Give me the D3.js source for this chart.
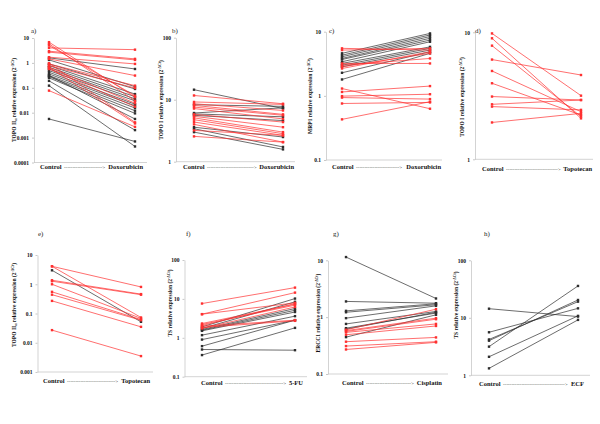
<!DOCTYPE html>
<html>
<head>
<meta charset="utf-8">
<script src="https://cdn.jsdelivr.net/npm/d3@7"></script>
<style>
body { margin: 0; background: #fff; }
text { font-family: "Liberation Serif", "DejaVu Serif", serif; }
</style>
</head>
<body>
<script>
// values: [control, after treatment]

// a) TOPO IIa, doxorubicin
var aRed = [[6.8,0.042],[5.8,0.030],[5.0,0.048],[4.0,3.4],[2.95,1.45],[2.7,1.32],[1.7,0.91],[1.45,0.31],
            [0.91,0.122],[0.78,0.098],[0.67,0.024],[0.57,0.0175],[0.97,0.0041],[0.67,0.0037],[0.077,0.0027]];
var aBlack = [[1.6,0.57],[1.32,0.111],[0.91,0.09],[0.78,0.056],[0.67,0.044],[0.57,0.036],[0.49,0.030],
              [0.42,0.022],[0.36,0.019],[0.31,0.0154],[0.28,0.012],[0.25,0.0094],[0.122,0.00044],
              [0.31,0.0056],[0.19,0.002],[0.0056,0.0007]];

// b) TOPO I, doxorubicin
var bRed = [[11.7,8.6],[9.2,8.4],[8.6,6.7],[8.1,5.8],[7.6,5.6],[7.2,4.9],[5.8,4.36],[5.4,3.6],
            [5.1,3.0],[4.76,2.83],[4.36,2.66],[4.0,2.07],[3.2,2.66],[2.56,2.07]];
var bBlack = [[14.5,7.2],[8.3,7.8],[6.1,7.4],[5.9,5.3],[5.6,4.6],[3.6,2.5],[3.4,1.73],[3.0,1.58]];

// c) MRP1, doxorubicin
var cRed = [[5.5,5.17],[5.17,5.5],[3.2,3.2],[3.0,3.83],[2.84,4.6],[2.67,4.87],[1.30,0.63],[1.15,1.42],
            [0.99,1.06],[0.94,0.89],[0.76,0.79],[0.43,0.81]];
var cBlack = [[4.6,9.4],[4.3,8.9],[4.07,8.4],[3.83,7.9],[3.69,7.4],[3.4,6.97],[3.2,5.8],[3.0,5.5],
              [2.84,5.17],[2.29,4.87],[1.8,4.6]];

// d) TOPO I, topotecan
var dRed = [[9.8,3.17],[8.97,2.1],[7.85,2.17],[6.1,4.61],[4.96,2.37],[3.97,2.23],[3.12,2.93],
            [2.71,2.93],[2.6,2.45],[1.95,2.30]];
var dBlack = [];

// e) TOPO IIa, topotecan
var eRed = [[4.1,0.81],[4.1,0.073],[1.37,0.46],[1.27,0.44],[1.0,0.068],[0.55,0.062],[0.44,0.059],
            [0.27,0.035],[0.027,0.0035]];
var eBlack = [[3.0,0.052]];

// f) TS, 5-FU
var fRed = [[7.6,19.5],[4.05,14.5],[4.05,7.9],[2.33,7.3],[2.2,6.9],[2.07,7.6],[1.99,2.84],[1.84,2.73],[1.74,6.2]];
var fBlack = [[1.91,10.2],[1.74,8.4],[1.64,5.65],[1.57,5.1],[1.51,4.6],[1.17,3.6],[0.9,2.84],
              [0.61,2.84],[0.50,0.48],[0.36,1.8]];

// g) ERCC1, cisplatin
var gRed = [[0.60,1.38],[0.58,0.96],[0.56,0.92],[0.54,0.76],[0.49,0.70],[0.37,0.44],[0.31,0.37],[0.27,0.36]];
var gBlack = [[11.4,2.13],[1.89,1.76],[1.29,1.72],[1.22,1.65],[0.96,1.58],[0.76,1.26],[0.445,1.10],
              [0.64,1.18],[0.615,1.22]];

// h) TS, ECF
var hRed = [];
var hBlack = [[14.4,10.5],[5.6,14.6],[4.2,19.1],[4.0,20.4],[3.15,35.8],[2.1,10.8],[1.32,9.2]];

var ticksA = [10,1,0.1,0.01,0.001,0.0001];
var ticksB = [100,10,1];
var ticksC = [10,1,0.1];
var ticksD = [10,1];
var ticksE = [10,1,0.1,0.01,0.001];
var ticksF = [100,10,1,0.1];
var ticksG = [10,1,0.1];
var ticksH = [100,10,1];

var panels = [
  {tag:'a)', gene:'TOPO II', sub:'α', trt:'Doxorubicin', red:aRed, black:aBlack, ticks:ticksA,
   ax:34, x0:49, x1:135, yTop:38, yBot:162.5, tagX:31, tagY:33, labX:16, labY:100, xl0:40, xl1:143, xlY:169},
  {tag:'b)', gene:'TOPO I', sub:'', trt:'Doxorubicin', red:bRed, black:bBlack, ticks:ticksB,
   ax:176, x0:194, x1:283, yTop:37.7, yBot:161.7, tagX:172, tagY:33, labX:163, labY:100, xl0:183, xl1:294, xlY:169},
  {tag:'c)', gene:'MRP1', sub:'', trt:'Doxorubicin', red:cRed, black:cBlack, ticks:ticksC,
   ax:326, x0:342, x1:430, yTop:31.7, yBot:160, tagX:329, tagY:33, labX:312, labY:96, xl0:332, xl1:441, xlY:169},
  {tag:'d)', gene:'TOPO I', sub:'', trt:'Topotecan', red:dRed, black:dBlack, ticks:ticksD,
   ax:475, x0:492, x1:581, yTop:32.3, yBot:159.3, tagX:475, tagY:33, labX:464, labY:97, xl0:482, xl1:592, xlY:171},
  {tag:'e)', gene:'TOPO II', sub:'α', trt:'Topotecan', red:eRed, black:eBlack, ticks:ticksE,
   ax:37.5, x0:52, x1:141, yTop:255, yBot:372, tagX:38, tagY:236, labX:16, labY:305, xl0:43, xl1:150, xlY:383},
  {tag:'f)', gene:'TS', sub:'', trt:'5-FU', red:fRed, black:fBlack, ticks:ticksF,
   ax:184.5, x0:202, x1:295, yTop:260, yBot:376.7, tagX:186, tagY:236, labX:172, labY:303, xl0:201, xl1:303, xlY:385},
  {tag:'g)', gene:'ERCC1', sub:'', trt:'Cisplatin', red:gRed, black:gBlack, ticks:ticksG,
   ax:328, x0:346, x1:436, yTop:260.3, yBot:374, tagX:333, tagY:236, labX:320, labY:313, xl0:342, xl1:442, xlY:385},
  {tag:'h)', gene:'TS', sub:'', trt:'ECF', red:hRed, black:hBlack, ticks:ticksH,
   ax:471, x0:489, x1:578, yTop:260.3, yBot:375.3, tagX:484, tagY:236, labX:458, labY:305, xl0:479, xl1:584, xlY:386}
];

var svg = d3.select('body').append('svg')
  .attr('width', 600)
  .attr('height', 424);

var redColor = '#ff3030';
var blackColor = '#2e2e2e';
var axisColor = '#c8c8c8';

var drawPanel = function(p) {
  var yDomain = [d3.min(p.ticks), d3.max(p.ticks)];
  var y = d3.scaleLog().domain(yDomain).range([p.yBot, p.yTop]);
  var x = d3.scaleLinear().domain([0, 1]).range([p.x0, p.x1]);
  var g = svg.append('g');

  // y axis
  var yAxis = g.append('g')
    .attr('transform', 'translate(' + p.ax + ',0)')
    .call(d3.axisLeft(y).tickValues(p.ticks).tickFormat(function(d) { return String(d); })
      .tickSize(2).tickSizeOuter(0).tickPadding(3));
  yAxis.select('.domain').attr('stroke', axisColor).attr('stroke-width', 0.8);
  yAxis.selectAll('.tick line').attr('stroke', axisColor);
  yAxis.selectAll('.tick text')
    .attr('font-family', '"Liberation Serif", serif')
    .attr('font-weight', 'bold')
    .attr('font-size', 5.5)
    .attr('fill', '#111');

  // x axis baseline
  g.append('line')
    .attr('x1', p.ax).attr('x2', p.x1 + 12)
    .attr('y1', p.yBot).attr('y2', p.yBot)
    .attr('stroke', axisColor).attr('stroke-width', 0.8);

  // lines
  var line = d3.line()
    .x(function(d, i) { return x(i); })
    .y(function(d) { return y(d); });

  var series = [{data: p.black, color: blackColor}, {data: p.red, color: redColor}];
  series.forEach(function(s) {
    g.selectAll(null)
      .data(s.data)
      .enter()
      .append('path')
      .attr('d', function(d) { return line(d); })
      .attr('fill', 'none')
      .attr('stroke', s.color)
      .attr('stroke-width', 0.7);

    var pts = [];
    s.data.forEach(function(d) { pts.push([0, d[0]]); pts.push([1, d[1]]); });
    g.selectAll(null)
      .data(pts)
      .enter()
      .append('rect')
      .attr('x', function(d) { return x(d[0]) - 1.2; })
      .attr('y', function(d) { return y(d[1]) - 1.2; })
      .attr('width', 2.4)
      .attr('height', 2.4)
      .attr('fill', s.color);
  });

  // panel tag
  g.append('text')
    .attr('x', p.tagX).attr('y', p.tagY)
    .attr('font-size', 7)
    .attr('fill', '#222')
    .text(p.tag);

  // y label
  var yl = g.append('text')
    .attr('transform', 'translate(' + p.labX + ',' + p.labY + ') rotate(-90)')
    .attr('text-anchor', 'middle')
    .attr('font-size', 5.5)
    .attr('font-weight', 'bold')
    .attr('fill', '#111');
  yl.append('tspan').text(p.gene);
  if (p.sub) {
    yl.append('tspan').attr('font-size', 4.2).attr('dy', 1.2).text(p.sub);
    yl.append('tspan').attr('dy', -1.2).text(' relative expression (2');
  } else {
    yl.append('tspan').text(' relative expression (2');
  }
  yl.append('tspan').attr('font-size', 3.8).attr('dy', -2).text('-ΔCt');
  yl.append('tspan').attr('dy', 2).text(')');

  // x label: Control ----> treatment
  var xl = g.append('g').attr('font-size', 6.5).attr('font-weight', 'bold').attr('fill', '#111');
  var c = xl.append('text').attr('x', p.xl0).attr('y', p.xlY).text('Control');
  var t = xl.append('text').attr('x', p.xl1).attr('y', p.xlY).attr('text-anchor', 'end').text(p.trt);
  var cw = c.node().getComputedTextLength();
  var tw = t.node().getComputedTextLength();
  var gap0 = p.xl0 + cw + 2.5;
  var gap1 = p.xl1 - tw - 2.5;
  var dash = xl.append('text')
    .attr('x', gap0).attr('y', p.xlY - 0.3)
    .attr('font-weight', 'normal')
    .attr('font-size', 5);
  var n = 80;
  dash.text('-'.repeat(n) + '>');
  while (n > 1 && dash.node().getComputedTextLength() > gap1 - gap0) {
    n -= 1;
    dash.text('-'.repeat(n) + '>');
  }
};

panels.forEach(drawPanel);
</script>
</body>
</html>
